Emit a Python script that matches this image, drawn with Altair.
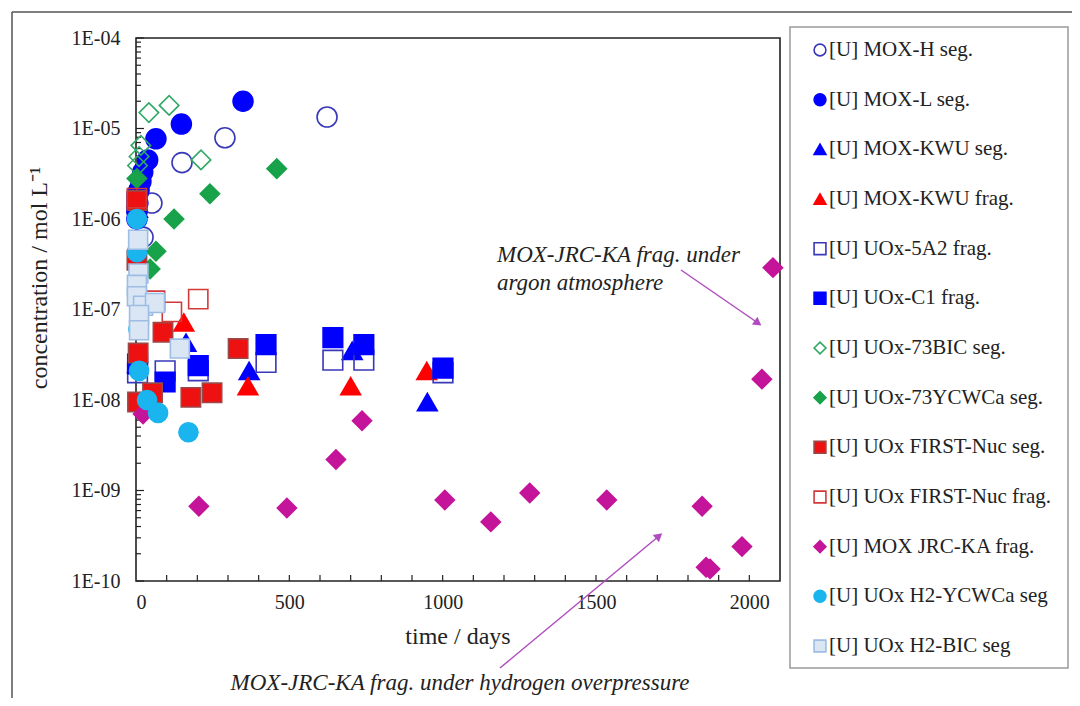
import altair as alt
import pandas as pd

# ---------------- data ----------------
series_names = [
    "[U] MOX-H seg.", "[U] MOX-L seg.", "[U] MOX-KWU seg.", "[U] MOX-KWU frag.",
    "[U] UOx-5A2 frag.", "[U] UOx-C1 frag.", "[U] UOx-73BIC seg.", "[U] UOx-73YCWCa seg.",
    "[U] UOx FIRST-Nuc seg.", "[U] UOx FIRST-Nuc frag.", "[U] MOX JRC-KA frag.",
    "[U] UOx H2-YCWCa seg", "[U] UOx H2-BIC seg",
]

mox_h_days = [3, 8, 23, 52, 150, 290, 623]
mox_h_conc = [1.2e-6, 2.0e-6, 6.3e-7, 1.5e-6, 4.2e-6, 7.9e-6, 1.34e-5]

mox_l_days = [3, 6, 10, 16, 22, 38, 65, 148, 349]
mox_l_conc = [1.0e-6, 1.5e-6, 2.1e-6, 2.6e-6, 3.3e-6, 4.5e-6, 7.7e-6, 1.12e-5, 2.0e-5]

mox_kwu_seg_days = [5, 5, 163, 369, 705, 950]
mox_kwu_seg_conc = [1.3e-6, 2.5e-8, 4.3e-8, 2.1e-8, 3.5e-8, 9.5e-9]

mox_kwu_frag_days = [3, 156, 365, 700, 948]
mox_kwu_frag_conc = [1.7e-6, 7.2e-8, 1.42e-8, 1.42e-8, 2.1e-8]

uox_5a2_days = [5, 95, 203, 424, 642, 743, 1001]
uox_5a2_conc = [2.0e-8, 2.1e-8, 2.1e-8, 2.6e-8, 2.75e-8, 2.75e-8, 2.0e-8]

uox_c1_days = [3, 5, 95, 203, 424, 642, 743, 1001]
uox_c1_conc = [1.5e-6, 2.5e-8, 1.58e-8, 2.4e-8, 4.1e-8, 4.9e-8, 4.1e-8, 2.25e-8]

uox_73bic_days = [5, 10, 16, 42, 108, 212]
uox_73bic_conc = [3.9e-6, 4.9e-6, 6.5e-6, 1.5e-5, 1.8e-5, 4.5e-6]

uox_73ycwca_days = [3, 46, 65, 124, 241, 459]
uox_73ycwca_conc = [2.8e-6, 2.8e-7, 4.4e-7, 1.0e-6, 1.9e-6, 3.6e-6]

first_seg_days = [3, 3, 5, 7, 54, 88, 179, 248, 333]
first_seg_conc = [1.6e-6, 3.5e-7, 9.5e-9, 3.3e-8, 1.2e-8, 5.6e-8, 1.07e-8, 1.2e-8, 3.7e-8]

first_frag_days = [3, 62, 117, 203]
first_frag_conc = [1.7e-6, 1.25e-7, 9.4e-8, 1.3e-7]

jrc_days = [23, 205, 492, 652, 737, 1007, 1157, 1284, 1535, 1846, 1859, 1872, 1976, 2041, 2077]
jrc_conc = [7.0e-9, 6.7e-10, 6.4e-10, 2.2e-9, 5.9e-9, 7.85e-10, 4.5e-10, 9.4e-10, 7.85e-10,
            6.7e-10, 1.42e-10, 1.36e-10, 2.4e-10, 1.7e-8, 2.9e-7]

h2_ycwca_days = [3, 3, 8, 10, 36, 72, 171]
h2_ycwca_conc = [1.0e-6, 4.3e-7, 6.0e-8, 2.1e-8, 1.0e-8, 7.2e-9, 4.4e-9]

h2_bic_days = [7, 8, 3, 3, 23, 62, 10, 10, 143]
h2_bic_conc = [5.9e-7, 2.5e-7, 1.87e-7, 1.4e-7, 1.1e-7, 1.18e-7, 8.7e-8, 5.9e-8, 3.7e-8]

x_label_values = [0, 500, 1000, 1500, 2000]
y_label_values = [1e-10, 1e-9, 1e-8, 1e-7, 1e-6, 1e-5, 1e-4]

all_days = [mox_h_days, mox_l_days, mox_kwu_seg_days, mox_kwu_frag_days, uox_5a2_days,
            uox_c1_days, uox_73bic_days, uox_73ycwca_days, first_seg_days, first_frag_days,
            jrc_days, h2_ycwca_days, h2_bic_days]
all_conc = [mox_h_conc, mox_l_conc, mox_kwu_seg_conc, mox_kwu_frag_conc, uox_5a2_conc,
            uox_c1_conc, uox_73bic_conc, uox_73ycwca_conc, first_seg_conc, first_frag_conc,
            jrc_conc, h2_ycwca_conc, h2_bic_conc]

rows = []
for name, ds, cs in zip(series_names, all_days, all_conc):
    for d, c in zip(ds, cs):
        rows.append({"series": name, "days": d, "conc": c, "idx": len(rows)})
df = pd.DataFrame(rows)
legend_df = pd.DataFrame({"series": series_names})

# ---------------- styles ----------------
shape_range = ["circle", "circle", "triangle-up", "triangle-up", "square", "square",
               "diamond", "diamond", "square", "square", "diamond", "circle", "square"]
fill_range = ["transparent", "#0000ff", "#0000ff", "#ff0000", "transparent", "#0000ff",
              "transparent", "#18a24a", "#ee1111", "transparent", "#c4149a", "#1ab4ee", "#dae6f4"]
stroke_range = ["#3838b8", "#0000ff", "#0000ff", "#ff0000", "#3838b8", "#0000ff",
                "#30a866", "#18a24a", "#9a4848", "#d23a3a", "#c4149a", "#1ab4ee", "#9dbde4"]
size_range = [400, 360, 400, 170, 330, 420, 480, 480, 400, 400, 220, 400, 400]

W, H = 644, 543
SERIF = "Liberation Serif"
TXT = "#222222"
ARROW = "#b04cc0"

xscale = alt.Scale(domain=[0, 2100], nice=False, zero=False)
yscale = alt.Scale(type="log", domain=[1e-10, 1e-4], nice=False)
shape_scale = alt.Scale(domain=series_names, range=shape_range)
fill_scale = alt.Scale(domain=series_names, range=fill_range)
stroke_scale = alt.Scale(domain=series_names, range=stroke_range)

xaxis = alt.Axis(values=x_label_values, ticks=False, domain=False, grid=False, title=None,
                 format="d", labelFont=SERIF, labelFontSize=20, labelColor=TXT,
                 labelPadding=11, labelOverlap=False)
yaxis = alt.Axis(values=y_label_values, ticks=False, domain=False, grid=False, title=None,
                 labelFont=SERIF, labelFontSize=20, labelColor=TXT, labelPadding=16,
                 labelOverlap=False,
                 labelExpr="'1E-' + format(round(-log(datum.value)/LN10), '02d')")

points = alt.Chart(df).mark_point(opacity=1, strokeWidth=1.6).encode(
    x=alt.X("days:Q", scale=xscale, axis=xaxis),
    y=alt.Y("conc:Q", scale=yscale, axis=yaxis),
    shape=alt.Shape("series:N", scale=shape_scale, legend=None),
    fill=alt.Fill("series:N", scale=fill_scale, legend=None),
    stroke=alt.Stroke("series:N", scale=stroke_scale, legend=None),
    size=alt.Size("series:N", scale=alt.Scale(domain=series_names, range=size_range), legend=None),
    order=alt.Order("idx:Q"),
)

# inward axis ticks
y_major = pd.DataFrame({"conc": y_label_values})
y_minor = pd.DataFrame({"conc": [k * 10.0 ** e for e in range(-10, -4) for k in range(2, 10)]})
x_minor = pd.DataFrame({"days": list(range(100, 2100, 100))})

ytick_major = alt.Chart(y_major).mark_rule(color=TXT, strokeWidth=1.2).encode(
    y=alt.Y("conc:Q", scale=yscale, axis=yaxis), x=alt.value(0), x2=alt.value(8))
ytick_minor = alt.Chart(y_minor).mark_rule(color=TXT, strokeWidth=1.2).encode(
    y=alt.Y("conc:Q", scale=yscale, axis=yaxis), x=alt.value(0), x2=alt.value(5))
xtick = alt.Chart(x_minor).mark_rule(color=TXT, strokeWidth=1.2).encode(
    x=alt.X("days:Q", scale=xscale, axis=xaxis), y=alt.value(H - 6), y2=alt.value(H))

plot = alt.layer(ytick_minor, ytick_major, xtick, points)

# ---------------- legend (drawn from the series list) ----------------
legend_y = alt.Scale(type="point", domain=series_names, range=[12, 608], padding=0)
one = pd.DataFrame({"a": [0]})
legend_box = alt.Chart(one).mark_rect(fill="white", stroke="#9a9a9a", strokeWidth=1.5).encode(
    x=alt.value(654), x2=alt.value(932), y=alt.value(-11), y2=alt.value(630))
legend_sym = alt.Chart(legend_df).mark_point(opacity=1, strokeWidth=1.6, size=140).encode(
    y=alt.Y("series:N", scale=legend_y, axis=None),
    x=alt.value(684),
    shape=alt.Shape("series:N", scale=shape_scale, legend=None),
    fill=alt.Fill("series:N", scale=fill_scale, legend=None),
    stroke=alt.Stroke("series:N", scale=stroke_scale, legend=None),
)
legend_txt = alt.Chart(legend_df).mark_text(
    align="left", baseline="middle", font=SERIF, fontSize=21, color=TXT).encode(
    y=alt.Y("series:N", scale=legend_y, axis=None),
    x=alt.value(693),
    text="series:N",
)


def text_layer(label, x, y, size, italic=False, angle=0, align="center"):
    kw = dict(font=SERIF, fontSize=size, color=TXT, align=align, baseline="middle")
    if italic:
        kw["fontStyle"] = "italic"
    if angle:
        kw["angle"] = angle
    return alt.Chart(pd.DataFrame({"t": [label]})).mark_text(**kw).encode(
        text="t:N", x=alt.value(x), y=alt.value(y))


y_title = text_layer("concentration  / mol L\u207b\u00b9", -96, 240, 24, angle=270)
x_title = text_layer("time / days", 322, 599, 24)
ann1a = text_layer("MOX-JRC-KA frag. under", 361, 217, 23, italic=True, align="left")
ann1b = text_layer("argon atmosphere", 361, 245, 23, italic=True, align="left")
ann2 = text_layer("MOX-JRC-KA frag. under hydrogen overpressure", 324, 645, 23, italic=True)

arrow1_line = alt.Chart(one).mark_rule(color=ARROW, strokeWidth=1.5).encode(
    x=alt.value(545), y=alt.value(232), x2=alt.value(622), y2=alt.value(285))
arrow1_head = alt.Chart(one).mark_point(shape="triangle-up", filled=True, opacity=1,
                                        color=ARROW, size=90, angle=126).encode(
    x=alt.value(622), y=alt.value(285))
arrow2_line = alt.Chart(one).mark_rule(color=ARROW, strokeWidth=1.5).encode(
    x=alt.value(364), y=alt.value(630), x2=alt.value(523), y2=alt.value(498))
arrow2_head = alt.Chart(one).mark_point(shape="triangle-up", filled=True, opacity=1,
                                        color=ARROW, size=90, angle=50).encode(
    x=alt.value(523), y=alt.value(498))

frame_top = alt.Chart(one).mark_rule(color="#555555", strokeWidth=1.5).encode(
    x=alt.value(-124), x2=alt.value(940), y=alt.value(-26))
frame_left = alt.Chart(one).mark_rule(color="#555555", strokeWidth=1.5).encode(
    x=alt.value(-124), y=alt.value(-26), y2=alt.value(670))

chart = alt.layer(
    frame_top, frame_left, plot, legend_box, legend_sym, legend_txt,
    y_title, x_title, ann1a, ann1b, ann2,
    arrow1_line, arrow1_head, arrow2_line, arrow2_head,
).resolve_scale(
    y="independent"
).properties(
    width=W, height=H,
    autosize=alt.AutoSizeParams(type="none"),
    padding={"left": 128, "top": 30, "right": 292, "bottom": 117},
    background="white",
).configure_view(
    stroke="#222222", strokeWidth=1.6
)

chart.save("out.html", embed_options={"renderer": "svg", "actions": False})
